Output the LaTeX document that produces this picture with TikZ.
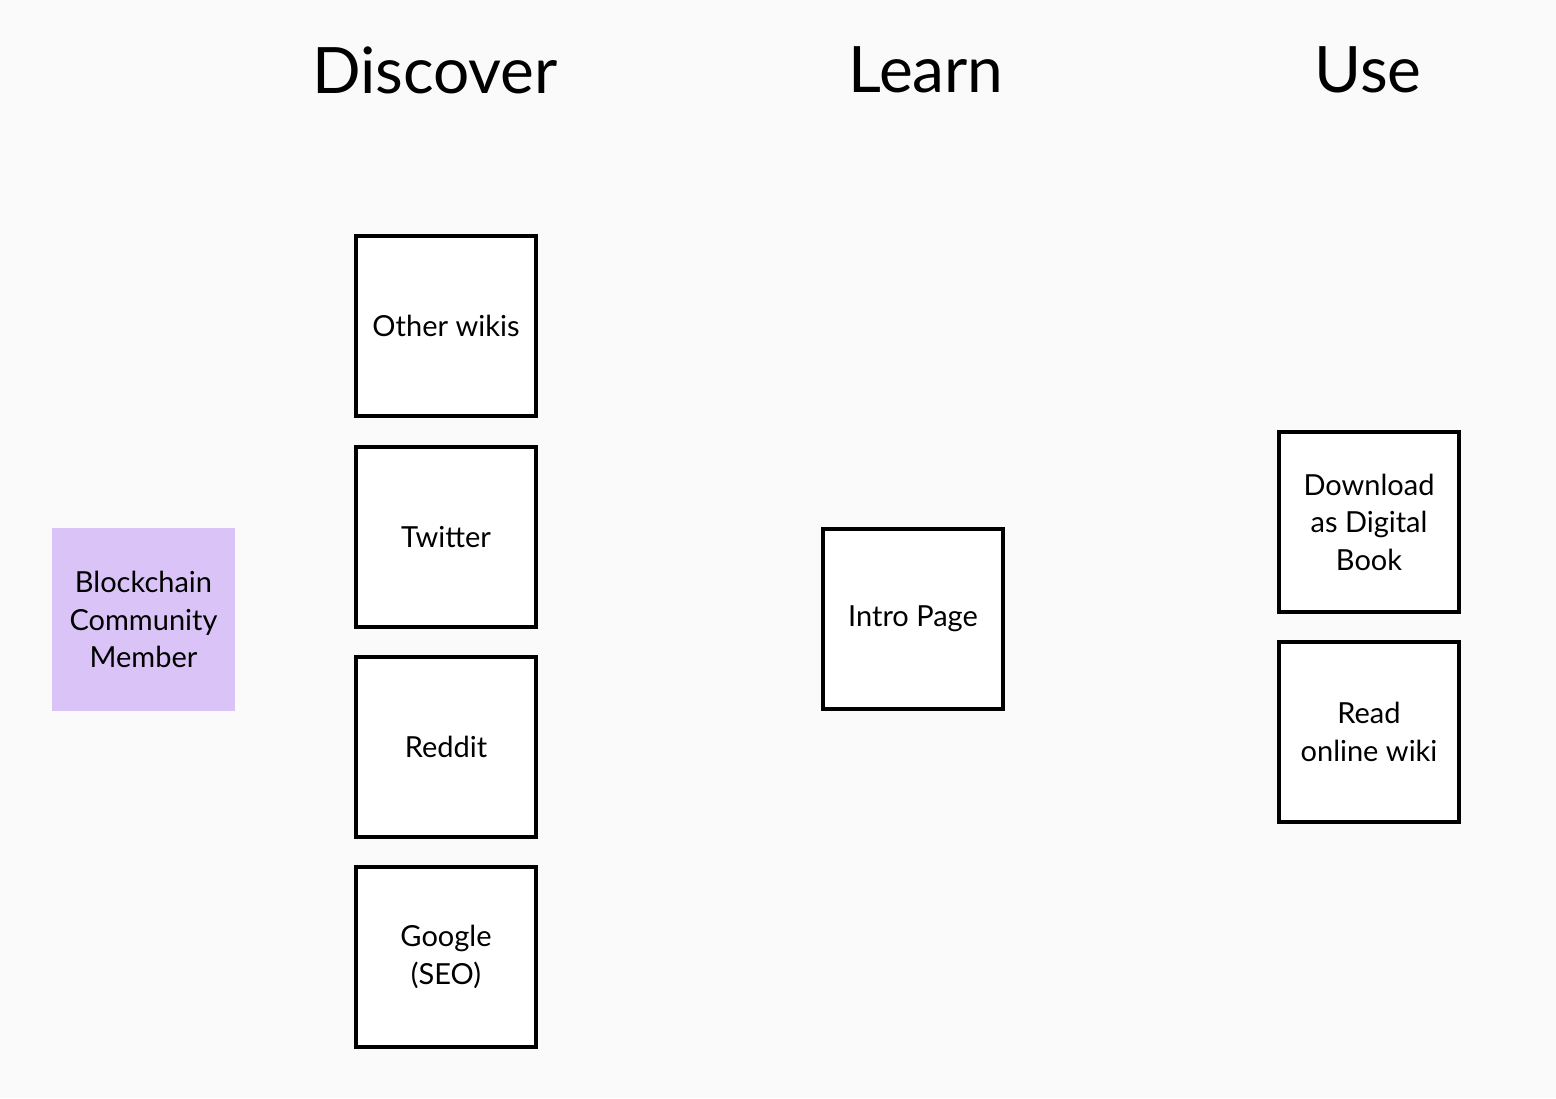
\documentclass[tikz,border=0pt]{standalone}
\usepackage{fontspec}
\setmainfont{Lato}
\definecolor{bg}{HTML}{FAFAFA}
\definecolor{lilac}{HTML}{DAC4F7}
\begin{document}
\begin{tikzpicture}[x=0.5pt,y=-0.5pt,
  card/.style={draw=black,line width=2pt,fill=white,minimum width=90pt,minimum height=90pt,
    align=center,inner sep=0pt,font=\fontsize{14.5}{18.75}\selectfont},
  persona/.style={fill=lilac,minimum width=91.5pt,minimum height=91.5pt,
    align=center,inner sep=0pt,font=\fontsize{14.5}{18.75}\selectfont},
  heading/.style={font=\fontsize{32}{38}\selectfont,inner sep=0pt}]
\fill[bg] (0,0) rectangle (1556,1098);
\useasboundingbox (0,0) rectangle (1556,1098);
\node[heading] (discover) at (435,70) {Discover};
\node[heading] (learn) at (926,70) {Learn};
\node[heading] (use) at (1368,70) {Use};
\node[persona] (member) at (143.5,619.5) {Blockchain\\Community\\Member};
\node[card] (wikis) at (446,326) {Other wikis};
\node[card] (twitter) at (446,537) {Twitter};
\node[card] (reddit) at (446,747) {Reddit};
\node[card] (google) at (446,957) {Google\\(SEO)};
\node[card] (intro) at (913,619) {Intro Page};
\node[card] (download) at (1369,522) {Download\\as Digital\\Book};
\node[card] (read) at (1369,732) {Read\\online wiki};
\end{tikzpicture}
\end{document}
